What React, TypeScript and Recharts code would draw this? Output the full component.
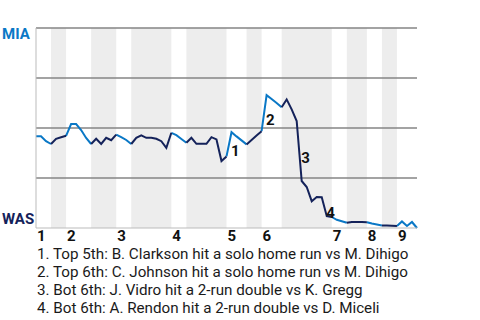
import { LineChart, Line, XAxis, YAxis, ReferenceArea, ReferenceLine, ReferenceDot } from "recharts";

// MIA win probability after each plate appearance (0 = WAS wins, 1 = MIA wins)
const winProb = [
  0.459, 0.459, 0.434, 0.42, 0.446, 0.454, 0.461, 0.52, 0.52, 0.49,
  0.45, 0.42, 0.446, 0.42, 0.451, 0.439, 0.467, 0.454, 0.44, 0.42,
  0.451, 0.463, 0.451, 0.451, 0.446, 0.434, 0.401, 0.476, 0.464, 0.445,
  0.426, 0.451, 0.421, 0.421, 0.421, 0.454, 0.443, 0.335, 0.358, 0.479,
  0.458, 0.438, 0.418, 0.44, 0.463, 0.484, 0.664, 0.645, 0.625, 0.604,
  0.643, 0.593, 0.535, 0.235, 0.205, 0.134, 0.155, 0.154, 0.059, 0.055,
  0.041, 0.034, 0.026, 0.03, 0.03, 0.03, 0.029, 0.023, 0.018, 0.013,
  0.012, 0.011, 0.01, 0.033, 0.01, 0.03, 0,
];

// half-inning boundaries (index of plate appearance), top 1st .. top 9th
const halfBounds = [0, 3, 6, 11, 16, 19, 27, 30, 38, 42, 45, 49, 59, 62, 66, 69, 72, 76];
const inningLabels = ["1", "2", "3", "4", "5", "6", "7", "8", "9"];

const eventIdx = [39, 46, 53, 58];
const eventText = [
  "Top 5th: B. Clarkson hit a solo home run vs M. Dihigo",
  "Top 6th: C. Johnson hit a solo home run vs M. Dihigo",
  "Bot 6th: J. Vidro hit a 2-run double vs K. Gregg",
  "Bot 6th: A. Rendon hit a 2-run double vs D. Miceli",
];

const MIA_BLUE = "#0a78c6";
const WAS_NAVY = "#14225a";
const FONT = "Roboto, sans-serif";

const inHalf = (i: number, top: boolean) => {
  for (let k = top ? 0 : 1; k < halfBounds.length - 1; k += 2) {
    if (i >= halfBounds[k] && i <= halfBounds[k + 1]) return true;
  }
  return false;
};

const data = winProb.map((p, i) => ({
  i,
  top: inHalf(i, true) ? p : null,
  bot: inHalf(i, false) ? p : null,
}));

const topStarts = halfBounds.filter((_, k) => k % 2 === 0 && k < halfBounds.length - 1);
const botHalves = halfBounds
  .map((s, k) => [s, halfBounds[k + 1]])
  .filter((_, k) => k % 2 === 1 && k < halfBounds.length - 1);

const InningTick = (props: any) => {
  const { x, y, payload } = props;
  const n = topStarts.indexOf(payload.value);
  return (
    <text x={x + 1} y={y + 11} textAnchor="start" fontFamily={FONT} fontSize={15} fontWeight={700} fill="#111">
      {inningLabels[n]}
    </text>
  );
};

const TeamTick = (props: any) => {
  const { y, payload } = props;
  const mia = payload.value === 1;
  return (
    <text
      x={2}
      y={mia ? y + 11 : y - 4}
      textAnchor="start"
      fontFamily={FONT}
      fontSize={15}
      fontWeight={700}
      fill={mia ? MIA_BLUE : WAS_NAVY}
    >
      {mia ? "MIA" : "WAS"}
    </text>
  );
};

export default function App() {
  return (
    <div style={{ position: "absolute", left: 0, top: 0, width: 480, height: 320, background: "#fff" }}>
      <LineChart width={480} height={250} data={data} margin={{ top: 28, right: 63, left: 0, bottom: 0 }}>
        {botHalves.map(([s, e]) => (
          <ReferenceArea key={s} x1={s} x2={e} y1={0} y2={1} fill="#ededed" fillOpacity={1} stroke="none" />
        ))}
        {[0.25, 0.5, 0.75, 1].map((v) => (
          <ReferenceLine key={v} y={v} stroke="#858585" strokeWidth={1.5} />
        ))}
        <XAxis
          dataKey="i"
          type="number"
          domain={[0, 76]}
          ticks={topStarts}
          interval={0}
          height={22}
          tickLine={false}
          tickSize={0}
          axisLine={{ stroke: "#bbbbbb" }}
          tick={<InningTick />}
        />
        <YAxis
          type="number"
          domain={[0, 1]}
          ticks={[0, 1]}
          width={36}
          tickLine={false}
          axisLine={{ stroke: "#bbbbbb" }}
          tick={<TeamTick />}
        />
        <Line dataKey="top" stroke={MIA_BLUE} strokeWidth={2} dot={false} isAnimationActive={false} type="linear" />
        <Line dataKey="bot" stroke={WAS_NAVY} strokeWidth={2} dot={false} isAnimationActive={false} type="linear" />
        {eventIdx.map((idx, n) => (
          <ReferenceDot
            key={idx}
            x={idx - 0.5}
            y={(winProb[idx - 1] + winProb[idx]) / 2}
            r={0}
            shape={(p: any) => (
              <text x={p.cx + 2} y={p.cy + 11.5} fontFamily={FONT} fontSize={15} fontWeight={700} fill="#111">
                {n + 1}
              </text>
            )}
          />
        ))}
      </LineChart>
      <div
        style={{
          position: "absolute",
          left: 37,
          top: 245,
          fontFamily: FONT,
          fontSize: 15.2,
          lineHeight: "18px",
          color: "#1a1a1a",
        }}
      >
        {eventText.map((t, n) => (
          <div key={n} style={{ whiteSpace: "nowrap" }}>
            {n + 1}. {t}
          </div>
        ))}
      </div>
    </div>
  );
}
